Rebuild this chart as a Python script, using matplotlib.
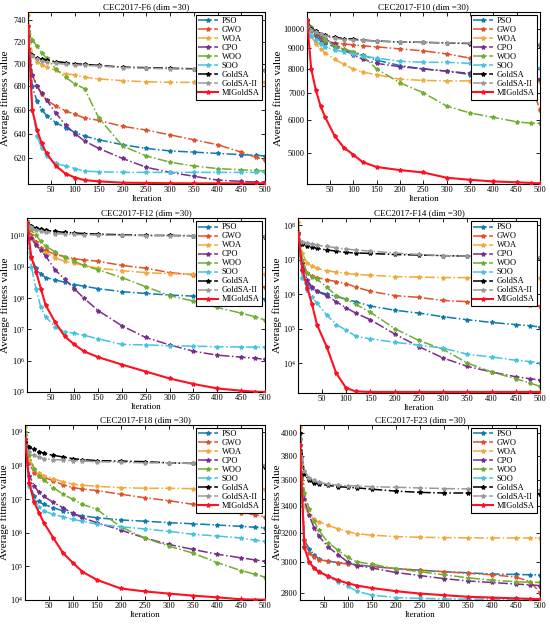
import matplotlib
matplotlib.use("Agg")
import matplotlib.pyplot as plt
import matplotlib.transforms as mtransforms
from matplotlib.ticker import FixedLocator, FixedFormatter, NullLocator, LogFormatterMathtext

plt.rcParams['font.family'] = ['Liberation Serif', 'DejaVu Serif']
plt.rcParams['mathtext.fontset'] = 'stix'

iters = [1, 10, 20, 30, 40, 60, 80, 100, 120, 150, 200, 250, 300, 350, 400, 450, 480, 500]
algos = ['PSO', 'GWO', 'WOA', 'CPO', 'WOO', 'SOO', 'GoldSA', 'GoldSA-II', 'MIGoldSA']
titles = ['CEC2017-F6 (dim =30)', 'CEC2017-F10 (dim =30)', 'CEC2017-F12 (dim =30)',
          'CEC2017-F14 (dim =30)', 'CEC2017-F18 (dim =30)', 'CEC2017-F23 (dim =30)']

f6 = {
    'PSO':       [730, 680, 667, 660, 655, 649, 645, 641, 638, 635, 631, 628, 626, 625, 624, 623, 622.5, 622],
    'GWO':       [720, 690, 680, 673, 668, 663, 659, 656, 653, 651, 646, 643, 639, 635, 631, 625, 621, 619],
    'WOA':       [745, 708, 702, 699, 697, 694, 691, 690, 688, 686.5, 685, 684, 683.5, 683.5, 683.5, 683.5, 683.5, 683.5],
    'CPO':       [725, 690, 680, 674, 668, 657, 647, 640, 634, 628, 620, 613, 609, 606, 603, 602, 601.5, 601.5],
    'WOO':       [735, 722, 716, 710, 705, 695, 688, 682, 678, 653, 630, 622, 617, 614, 612, 611, 610.5, 610],
    'SOO':       [720, 660, 638, 628, 622, 616, 614, 612, 610, 609.5, 609, 609, 609, 609, 609, 609, 609, 609],
    'GoldSA':    [713, 708, 705, 704, 703, 702, 701, 700, 699.5, 698.5, 697, 696.5, 696, 695.5, 695, 694.5, 694.3, 694],
    'GoldSA-II': [712, 707, 704, 702.5, 701.5, 700.5, 699.5, 699, 698.5, 698, 696.5, 696, 695.5, 695, 694.8, 694.5, 694.3, 694],
    'MIGoldSA':  [735, 660, 643, 632, 624, 614, 608, 605, 603, 602, 601, 600.8, 600.6, 600.5, 600.5, 600.5, 600.5, 600.5],
}
f10 = {
    'PSO':       [10300, 9900, 9600, 9400, 9250, 9050, 8900, 8800, 8650, 8400, 8150, 8000, 7900, 7750, 7550, 7500, 7500, 7500],
    'GWO':       [10500, 10000, 9700, 9500, 9350, 9250, 9200, 9150, 9100, 9050, 8950, 8850, 8700, 8500, 8350, 8250, 7400, 6350],
    'WOA':       [10500, 9600, 9200, 8950, 8750, 8450, 8200, 8000, 7850, 7750, 7550, 7500, 7480, 7480, 7470, 7460, 7450, 7450],
    'CPO':       [10400, 10000, 9800, 9600, 9450, 9200, 8900, 8650, 8450, 8250, 8100, 8000, 7900, 7800, 7700, 7650, 7600, 7550],
    'WOO':       [10500, 10100, 9900, 9650, 9400, 9100, 8950, 8800, 8600, 8000, 7400, 7000, 6500, 6250, 6100, 5950, 5900, 5900],
    'SOO':       [9900, 9600, 9400, 9200, 9050, 8900, 8800, 8700, 8600, 8500, 8350, 8300, 8300, 8250, 8200, 8150, 8100, 8050],
    'GoldSA':    [10500, 10000, 9900, 9750, 9650, 9550, 9480, 9450, 9400, 9350, 9300, 9280, 9250, 9220, 9200, 9170, 9160, 9150],
    'GoldSA-II': [10400, 9950, 9850, 9700, 9600, 9500, 9430, 9400, 9380, 9350, 9300, 9280, 9260, 9240, 9220, 9210, 9200, 9200],
    'MIGoldSA':  [10500, 8000, 7100, 6500, 6100, 5500, 5150, 4950, 4750, 4620, 4540, 4480, 4350, 4300, 4260, 4240, 4225, 4215],
}
f12 = {
    'PSO':       [1.5e10, 2e9, 9e8, 6e8, 4.5e8, 3.8e8, 3.2e8, 2.7e8, 2.4e8, 2e8, 1.6e8, 1.4e8, 1.25e8, 1.15e8, 1.05e8, 1e8, 9.5e7, 9e7],
    'GWO':       [2.5e10, 1e10, 6e9, 4e9, 3.3e9, 2.5e9, 2.1e9, 1.8e9, 1.65e9, 1.5e9, 1.1e9, 9e8, 6.5e8, 5.5e8, 4.5e8, 3.5e8, 2.6e8, 2.2e8],
    'WOA':       [2.5e10, 8e9, 5e9, 3.5e9, 2.8e9, 1.9e9, 1.5e9, 1.3e9, 1.1e9, 9e8, 7.5e8, 6.5e8, 6e8, 5.8e8, 5.8e8, 5.8e8, 5.8e8, 5.8e8],
    'CPO':       [2e10, 8e9, 5e9, 3.3e9, 2.2e9, 8e8, 4e8, 2e8, 1e8, 4e7, 1.3e7, 5.5e6, 3.2e6, 2e6, 1.5e6, 1.3e6, 1.2e6, 1.1e6],
    'WOO':       [2.8e10, 1.5e10, 1e10, 6.5e9, 4.5e9, 3e9, 2e9, 1.5e9, 1.1e9, 8e8, 4.5e8, 2.3e8, 1.2e8, 8e7, 5e7, 3.3e7, 2.5e7, 2e7],
    'SOO':       [1e10, 1e9, 2e8, 5e7, 2.5e7, 1.2e7, 8.5e6, 7.5e6, 6.5e6, 5e6, 3.3e6, 3.2e6, 3e6, 2.9e6, 2.8e6, 2.75e6, 2.7e6, 2.7e6],
    'GoldSA':    [2.5e10, 2e10, 1.7e10, 1.55e10, 1.45e10, 1.35e10, 1.25e10, 1.2e10, 1.15e10, 1.1e10, 1.05e10, 1e10, 1e10, 9.8e9, 9.5e9, 9.3e9, 9.1e9, 9e9],
    'GoldSA-II': [2.4e10, 1.8e10, 1.5e10, 1.35e10, 1.25e10, 1.15e10, 1.1e10, 1.08e10, 1.05e10, 1.03e10, 1e10, 9.9e9, 9.8e9, 9.7e9, 9.6e9, 9.5e9, 9.5e9, 9.5e9],
    'MIGoldSA':  [2.5e10, 2e9, 7e8, 2e8, 6e7, 1.7e7, 6e6, 3.3e6, 2e6, 1.3e6, 7.5e5, 4.5e5, 2.7e5, 1.8e5, 1.3e5, 1.1e5, 1.02e5, 1e5],
}
f14 = {
    'PSO':       [5e7, 5e6, 2e6, 1.5e6, 1.2e6, 1e6, 8.5e5, 7e5, 6e5, 4.5e5, 3.4e5, 2.8e5, 2.2e5, 1.8e5, 1.5e5, 1.3e5, 1.2e5, 1.1e5],
    'GWO':       [6e7, 8e6, 4e6, 3.3e6, 3e6, 2.6e6, 2.3e6, 2e6, 1.6e6, 1.2e6, 9e5, 8e5, 6.5e5, 6e5, 5.5e5, 5e5, 4.7e5, 4.5e5],
    'WOA':       [1.2e8, 1.5e7, 8e6, 6.5e6, 5.5e6, 4.8e6, 4.3e6, 4e6, 3.7e6, 3.5e6, 3.2e6, 3.1e6, 3e6, 3e6, 3e6, 3e6, 3e6, 3e6],
    'CPO':       [6e7, 8e6, 2.5e6, 1.6e6, 1.2e6, 9e5, 6e5, 4e5, 2.8e5, 1.8e5, 7e4, 3e4, 1.4e4, 8e3, 5.5e3, 4e3, 3.5e3, 3.2e3],
    'WOO':       [6e7, 1e7, 4e6, 3.2e6, 2.7e6, 1.6e6, 9e5, 7e5, 5e5, 3e5, 1e5, 4.5e4, 2.5e4, 1e4, 5.5e3, 3.5e3, 2.6e3, 2.1e3],
    'SOO':       [4e7, 3e6, 1.3e6, 8e5, 5.5e5, 2.5e5, 1.3e5, 9e4, 6e4, 5e4, 4e4, 3.3e4, 2.7e4, 1.8e4, 1.5e4, 1.2e4, 1.1e4, 1e4],
    'GoldSA':    [4e7, 2.8e7, 2.5e7, 2.3e7, 2.1e7, 1.9e7, 1.75e7, 1.6e7, 1.55e7, 1.5e7, 1.4e7, 1.35e7, 1.3e7, 1.25e7, 1.2e7, 1.15e7, 1.1e7, 1.1e7],
    'GoldSA-II': [4e7, 3.3e7, 3e7, 2.8e7, 2.6e7, 2.4e7, 2.2e7, 2e7, 1.9e7, 1.75e7, 1.55e7, 1.4e7, 1.3e7, 1.25e7, 1.2e7, 1.2e7, 1.15e7, 1.15e7],
    'MIGoldSA':  [6e7, 5e6, 1.5e6, 5e5, 1.3e5, 3e4, 5e3, 1.9e3, 1.5e3, 1.45e3, 1.45e3, 1.45e3, 1.45e3, 1.45e3, 1.45e3, 1.45e3, 1.45e3, 1.45e3],
}
f18 = {
    'PSO':       [5e8, 3e7, 1.2e7, 8.5e6, 7e6, 5.5e6, 4.5e6, 3.5e6, 3.2e6, 2.8e6, 2.4e6, 2.2e6, 2e6, 1.85e6, 1.7e6, 1.55e6, 1.45e6, 1.4e6],
    'GWO':       [8e8, 1.2e8, 6e7, 5e7, 4.5e7, 3.5e7, 2.7e7, 2.2e7, 2e7, 1.8e7, 1.4e7, 1.1e7, 9e6, 7e6, 5.5e6, 4e6, 3.4e6, 3e6],
    'WOA':       [1.4e9, 1.5e8, 8e7, 6e7, 5e7, 4e7, 3.3e7, 2.8e7, 2.6e7, 2.4e7, 2.2e7, 2.1e7, 2.1e7, 2.05e7, 2e7, 2e7, 2e7, 2e7],
    'CPO':       [6e8, 5e7, 2.5e7, 1.6e7, 1.2e7, 8e6, 5.5e6, 3.8e6, 2.8e6, 2e6, 1.2e6, 7e5, 4.5e5, 3.2e5, 2.3e5, 1.8e5, 1.55e5, 1.4e5],
    'WOO':       [1e9, 2e8, 8e7, 5e7, 3.8e7, 2.2e7, 1.4e7, 1e7, 7e6, 5e6, 1.5e6, 7e5, 4e5, 2.5e5, 1.3e5, 7.5e4, 5.8e4, 4.8e4],
    'SOO':       [3e8, 2.5e7, 9e6, 6e6, 4.5e6, 3.5e6, 3e6, 2.5e6, 2.2e6, 1.8e6, 1.5e6, 1.3e6, 1.1e6, 9e5, 8e5, 7e5, 6e5, 5.5e5],
    'GoldSA':    [5e8, 3.5e8, 3e8, 2.6e8, 2.3e8, 2e8, 1.8e8, 1.6e8, 1.5e8, 1.4e8, 1.35e8, 1.3e8, 1.2e8, 1.15e8, 1.05e8, 1e8, 9.5e7, 9e7],
    'GoldSA-II': [4e8, 2.5e8, 2e8, 1.8e8, 1.6e8, 1.5e8, 1.45e8, 1.4e8, 1.35e8, 1.3e8, 1.25e8, 1.2e8, 1.2e8, 1.15e8, 1.1e8, 1.05e8, 1e8, 1e8],
    'MIGoldSA':  [6e8, 3e7, 8e6, 4e6, 2e6, 7e5, 2.5e5, 1.3e5, 7e4, 4e4, 2.2e4, 1.8e4, 1.55e4, 1.35e4, 1.2e4, 1.05e4, 1.03e4, 1.02e4],
}
f23 = {
    'PSO':       [3900, 3150, 3090, 3050, 3020, 3005, 2995, 2990, 2980, 2970, 2955, 2945, 2935, 2928, 2920, 2917, 2915, 2915],
    'GWO':       [3950, 3150, 3060, 3030, 3015, 3005, 2995, 2985, 2978, 2970, 2955, 2945, 2935, 2925, 2915, 2900, 2870, 2800],
    'WOA':       [4060, 3400, 3330, 3300, 3280, 3255, 3230, 3210, 3195, 3185, 3175, 3170, 3168, 3166, 3165, 3165, 3165, 3165],
    'CPO':       [3950, 3450, 3330, 3240, 3180, 3100, 3050, 3000, 2975, 2960, 2930, 2910, 2890, 2875, 2865, 2855, 2850, 2845],
    'WOO':       [3950, 3500, 3380, 3290, 3220, 3130, 3080, 3030, 3000, 2985, 2955, 2935, 2915, 2895, 2880, 2870, 2867, 2865],
    'SOO':       [3750, 3100, 3000, 2960, 2940, 2900, 2870, 2840, 2810, 2785, 2770, 2765, 2762, 2761, 2760, 2760, 2760, 2760],
    'GoldSA':    [4000, 3650, 3600, 3580, 3570, 3560, 3550, 3545, 3540, 3530, 3515, 3505, 3500, 3500, 3500, 3497, 3495, 3495],
    'GoldSA-II': [3950, 3680, 3620, 3600, 3585, 3570, 3562, 3558, 3555, 3550, 3545, 3540, 3535, 3532, 3530, 3527, 3525, 3525],
    'MIGoldSA':  [3900, 3100, 3000, 2960, 2935, 2905, 2880, 2860, 2845, 2830, 2810, 2795, 2785, 2775, 2770, 2765, 2762, 2760],
}
datasets = [f6, f10, f12, f14, f18, f23]

colors = {'PSO': '#0f7bb0', 'GWO': '#e0532a', 'WOA': '#f2a93b', 'CPO': '#7b2d8e',
          'WOO': '#6fae2f', 'SOO': '#45c3e0', 'GoldSA': '#000000', 'GoldSA-II': '#9a9a9a',
          'MIGoldSA': '#ff0f1f'}

W, H = 550, 624
boxes = [(28, 12, 265, 184), (307, 12, 540, 184),
         (27, 218, 265, 392), (298, 218, 540, 393),
         (25, 425, 265, 600), (300, 425, 540, 600)]
ylab_x = [5, 278, 5, 277, 4, 277]
ylims = [(600, 748), (4200, 11000), (1e5, 3.6e10), (1.35e3, 1.6e8), (1e4, 1.6e9), (2755, 4075)]
custom_ticks = {0: [620, 640, 660, 680, 700, 720, 740],
                1: [5000, 6000, 7000, 8000, 9000, 10000],
                5: [2800, 3000, 3200, 3400, 3600, 3800, 4000]}
decades = {2: [1e5, 1e6, 1e7, 1e8, 1e9, 1e10], 3: [1e4, 1e5, 1e6, 1e7, 1e8], 4: [1e4, 1e5, 1e6, 1e7, 1e8, 1e9]}

fig = plt.figure(figsize=(W / 100, H / 100), dpi=100)
for i, (d, box) in enumerate(zip(datasets, boxes)):
    x0, y0, x1, y1 = box
    ax = fig.add_axes([x0 / W, 1 - y1 / H, (x1 - x0) / W, (y1 - y0) / H])
    for a in algos:
        if a == 'MIGoldSA':
            ax.plot(iters, d[a], '-', color=colors[a], lw=1.5, marker='*', ms=3, label=a, zorder=5)
        else:
            ax.plot(iters, d[a], '-.', color=colors[a], lw=1.1, marker='*', ms=3, label=a)
    ax.set_yscale('log')
    ax.set_xlim(1, 500)
    ax.set_ylim(*ylims[i])
    ax.set_xticks([50, 100, 150, 200, 250, 300, 350, 400, 450, 500])
    if i in custom_ticks:
        t = custom_ticks[i]
        ax.yaxis.set_major_locator(FixedLocator(t))
        ax.yaxis.set_major_formatter(FixedFormatter([str(v) for v in t]))
    else:
        ax.yaxis.set_major_locator(FixedLocator(decades[i]))
        ax.yaxis.set_major_formatter(LogFormatterMathtext())
    ax.yaxis.set_minor_locator(NullLocator())
    ax.tick_params(direction='in', top=True, right=True, labelsize=6, length=3, width=0.6, pad=1.5)
    for s in ax.spines.values():
        s.set_linewidth(0.8)
    ax.set_title(titles[i], fontsize=6.5, pad=2)
    ax.set_xlabel('Iteration', fontsize=6.5, labelpad=1)
    ax.set_ylabel('Average fitness value', fontsize=8)
    tr = mtransforms.blended_transform_factory(fig.transFigure, ax.transAxes)
    ax.yaxis.set_label_coords(ylab_x[i] / W, 0.5, transform=tr)
    ax.yaxis.label.set_va('center')
    leg = ax.legend(loc='upper right', fontsize=6, frameon=True, fancybox=False,
                    framealpha=1, edgecolor='black', handlelength=2.4, labelspacing=0.12,
                    borderpad=0.3, handletextpad=0.4, borderaxespad=0.35)
    leg.get_frame().set_linewidth(0.8)

fig.savefig('out.png', dpi=100)
